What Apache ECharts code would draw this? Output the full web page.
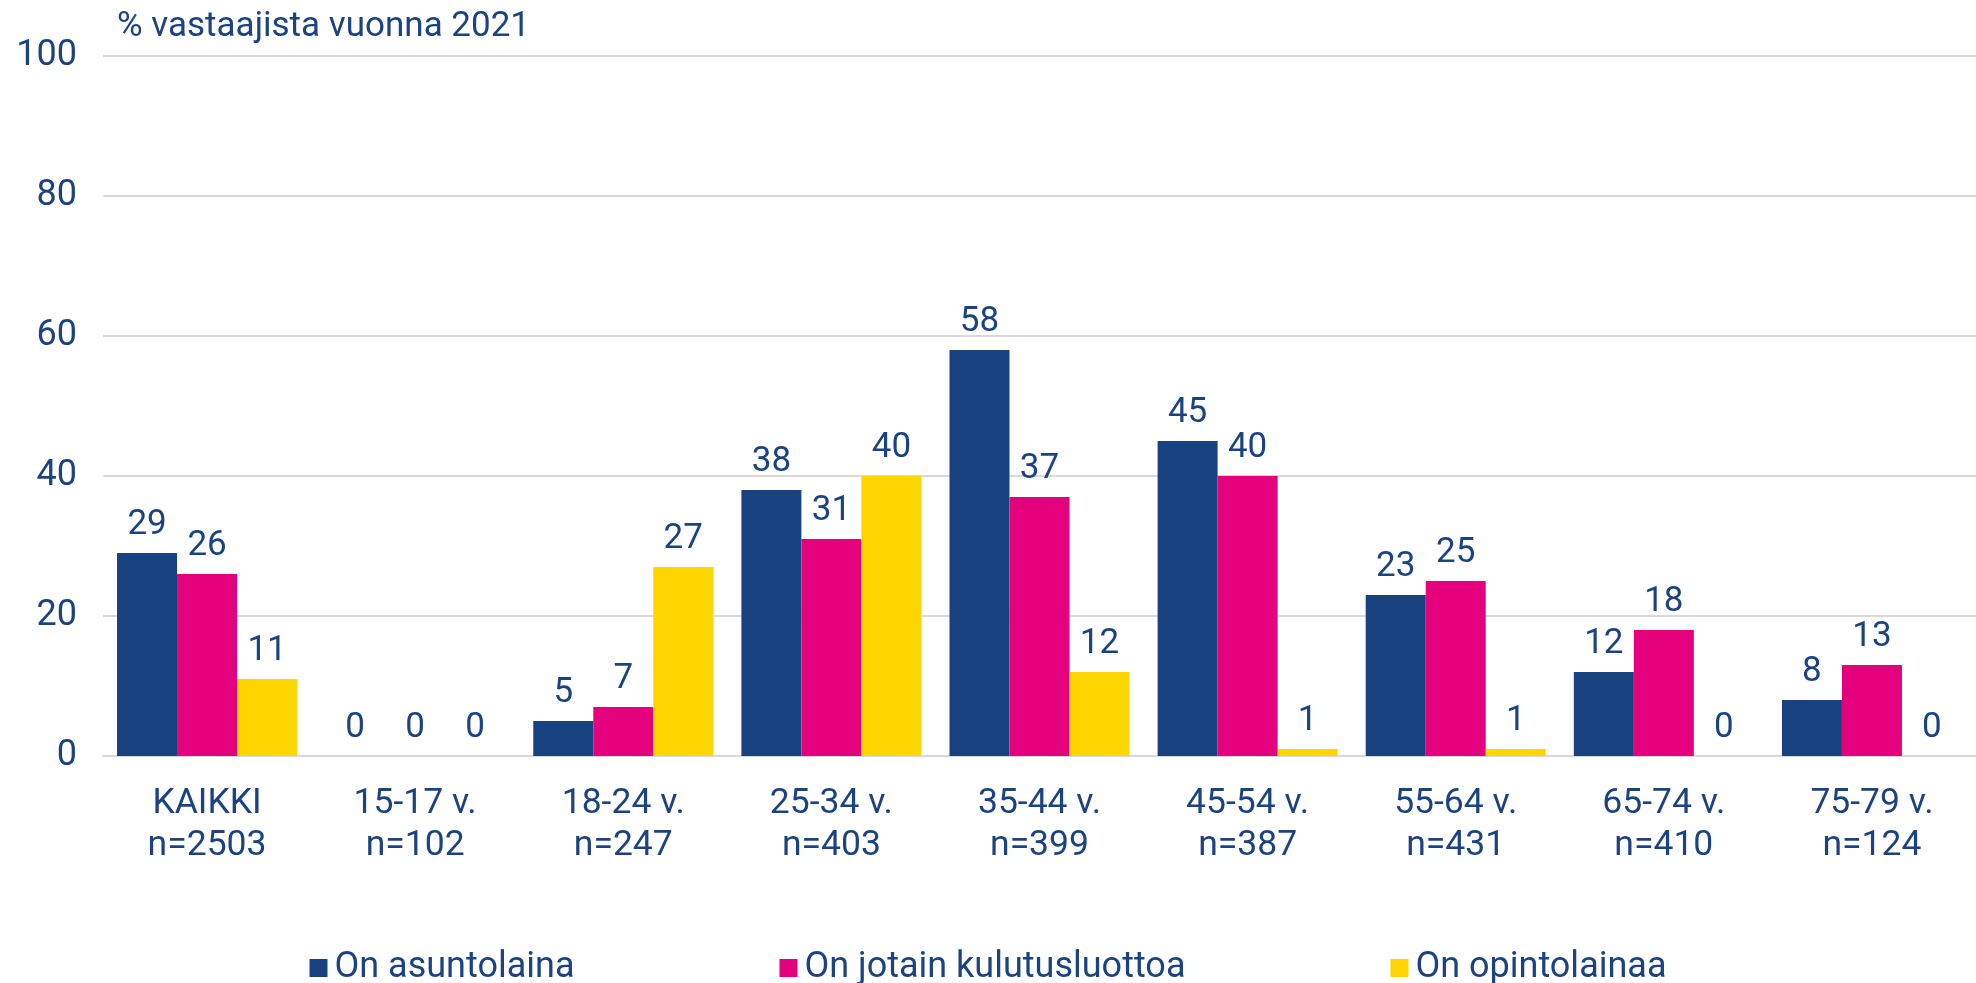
<!DOCTYPE html>
<html>
<head>
<meta charset="utf-8">
<script src="https://cdn.jsdelivr.net/npm/echarts@6/dist/echarts.min.js"></script>
<style>
html,body{margin:0;padding:0;background:#fff;}
#chart{width:1976px;height:983px;}
</style>
</head>
<body>
<div id="chart"></div>
<script>
const categories = ["KAIKKI\nn=2503","15-17 v.\nn=102","18-24 v.\nn=247","25-34 v.\nn=403","35-44 v.\nn=399","45-54 v.\nn=387","55-64 v.\nn=431","65-74 v.\nn=410","75-79 v.\nn=124"];
const seriesNames = ["On asuntolaina","On jotain kulutusluottoa","On opintolainaa"];
const asuntolaina = [29,0,5,38,58,45,23,12,8];
const kulutusluotto = [26,0,7,31,37,40,25,18,13];
const opintolaina = [11,0,27,40,12,1,1,0,0];
const yTicks = [0,20,40,60,80,100];
const axisTitle = "% vastaajista vuonna 2021";

const TEXT = "#1B4382";
const FONT = "Roboto";
const colors = ["#17417F","#E5007E","#FFD500"];
const values = [asuntolaina, kulutusluotto, opintolaina];

const chart = echarts.init(document.getElementById('chart'));
chart.setOption({
  animation:false,
  backgroundColor:'#fff',
  title:{text:axisTitle,left:112,top:5,textStyle:{color:TEXT,fontFamily:FONT,fontSize:35,fontWeight:'normal'}},
  legend:{
    data:seriesNames,left:'center',top:945,
    itemWidth:18,itemHeight:18,itemGap:205,icon:'rect',
    textStyle:{color:TEXT,fontFamily:FONT,fontSize:36,padding:[0,0,0,2]}
  },
  grid:{left:103,right:0,top:56,bottom:227,containLabel:false},
  xAxis:{
    type:'category',data:categories,
    axisLine:{show:true,lineStyle:{color:'#D9D9D9',width:2}},
    axisTick:{show:false},
    axisLabel:{color:TEXT,fontFamily:FONT,fontSize:35.5,lineHeight:42,margin:27,interval:0}
  },
  yAxis:{
    type:'value',min:0,max:100,interval:20,
    axisLine:{show:false},axisTick:{show:false},
    splitLine:{lineStyle:{color:'#D9D9D9',width:2}},
    axisLabel:{color:TEXT,fontFamily:FONT,fontSize:36,margin:26,
      formatter:function(v){return yTicks.indexOf(v)>=0?String(v):'';}}
  },
  series: seriesNames.map((n,i)=>({
    name:n,type:'bar',data:values[i],
    barGap:'0%',barCategoryGap:'13.5%',
    itemStyle:{color:colors[i]},
    label:{show:true,position:'top',distance:10,color:TEXT,fontFamily:FONT,fontSize:35}
  }))
});
</script>
</body>
</html>
